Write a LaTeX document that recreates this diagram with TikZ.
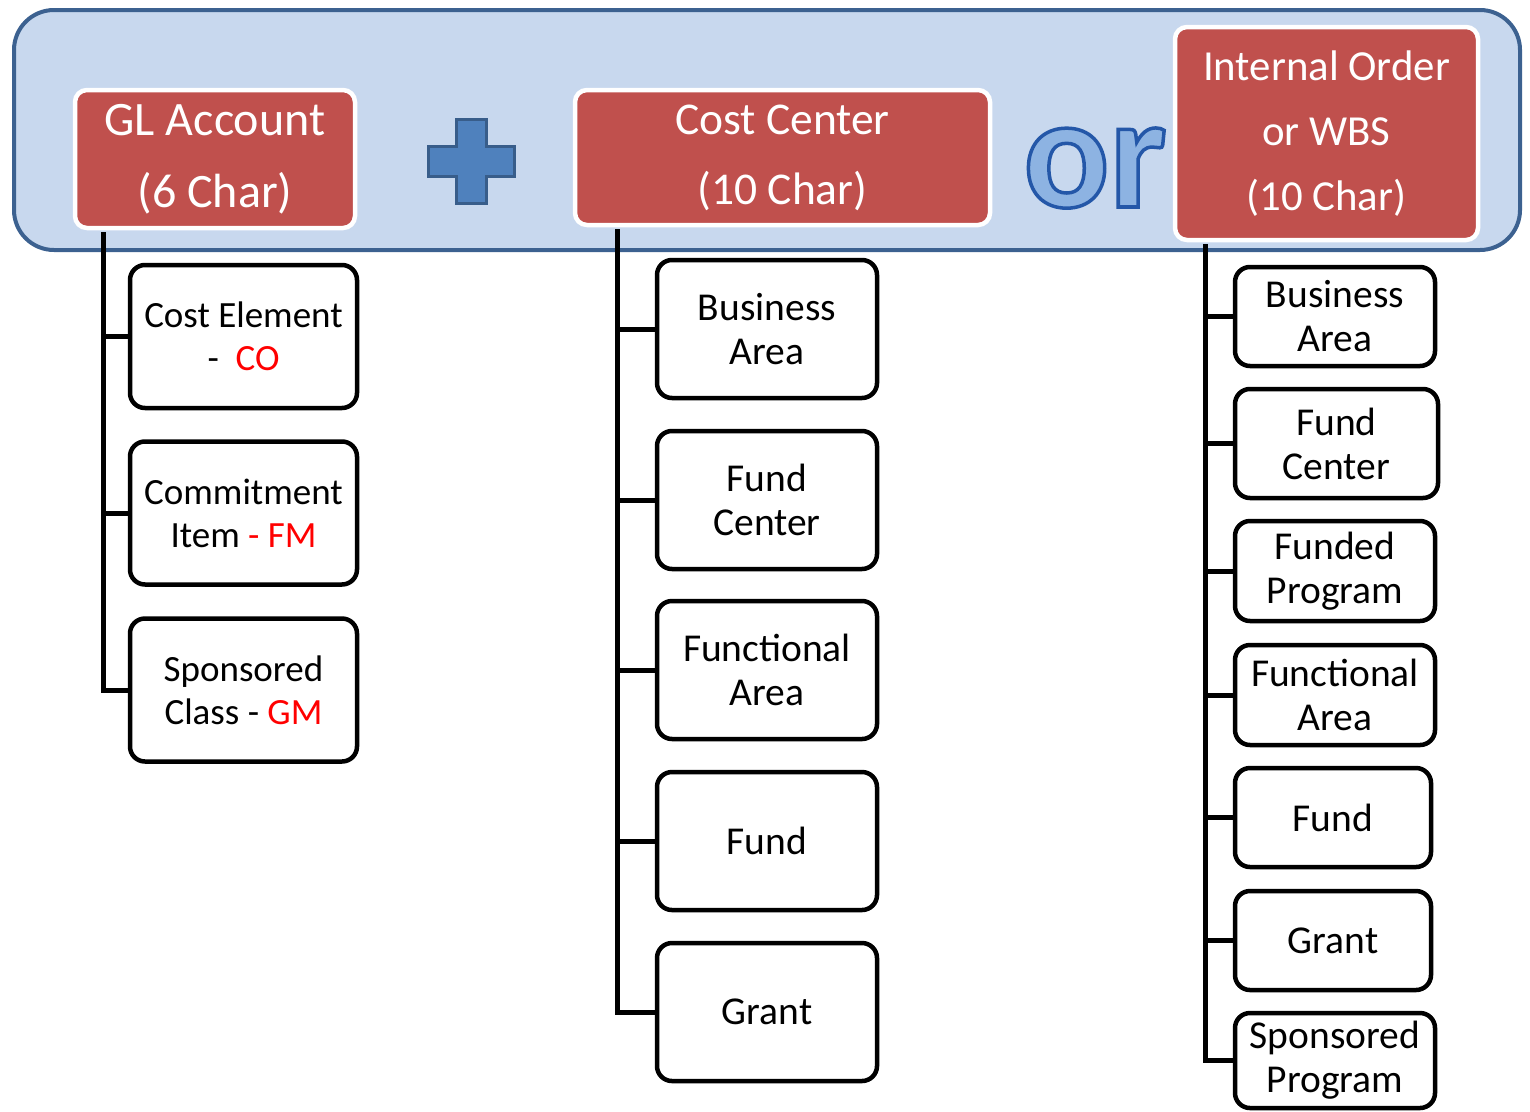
\documentclass[tikz,border=0pt]{standalone}
\usepackage{fontspec}
\setmainfont{Carlito}
\definecolor{bandfill}{HTML}{C8D8EE}
\definecolor{banddraw}{HTML}{3C6190}
\definecolor{hdrred}{HTML}{C0504D}
\definecolor{plusfill}{HTML}{4F81BD}
\definecolor{plusdraw}{HTML}{385D8A}
\definecolor{orfill}{HTML}{8DB3E2}
\definecolor{txtred}{HTML}{FF0000}
\newcommand\strokeon{\special{pdf:literal q 2 Tr 3.5 w 0.14 0.34 0.66 RG}}
\newcommand\strokeoff{\special{pdf:literal Q}}
\tikzset{
  hdr/.style={draw=white, line width=4.5pt, fill=hdrred, rounded corners=12pt, text=white, align=center, inner sep=0pt},
  item/.style={draw=black, line width=4.5pt, fill=white, rounded corners=15pt, align=center, inner sep=0pt, font=\fontsize{39.5}{44}\selectfont},
  leftitem/.style={item, font=\fontsize{37}{43}\selectfont},
  conn/.style={draw=black, line width=5pt},
}
\begin{document}
\begin{tikzpicture}[x=1pt,y=-1pt]
\useasboundingbox (0,0) rectangle (1530,1111);
% band
\draw[fill=bandfill, draw=banddraw, line width=4pt, rounded corners=40pt] (14,10) rectangle (1520,250);
% plus sign
\draw[fill=plusfill, draw=plusdraw, line width=3pt]
  (456,119) -- (486,119) -- (486,146) -- (514,146) -- (514,176) -- (486,176) -- (486,203) -- (456,203) -- (456,176) -- (428,176) -- (428,146) -- (456,146) -- cycle;
% or
\node[anchor=base, inner sep=0pt, text=orfill, font=\fontsize{160}{160}\selectfont\bfseries] (or) at (1095,207) {\strokeon or\strokeoff};
% headers
\node[hdr, minimum width=280pt, minimum height=138pt, font=\fontsize{48}{72}\selectfont] (gl) at (215,159) {GL Account\\(6 Char)};
\node[hdr, minimum width=415pt, minimum height=135pt, font=\fontsize{45.5}{70}\selectfont] (cc) at (782.5,157.5) {Cost Center\\(10 Char)};
\node[hdr, minimum width=303pt, minimum height=213pt, font=\fontsize{42.8}{65}\selectfont] (io) at (1326.5,133.5) {Internal Order\\or WBS\\(10 Char)};
% left boxes
\node[leftitem, minimum width=227pt, minimum height=143pt] (ce) at (243.5,336.5) {Cost Element\\-\ \ {\color{txtred}CO}};
\node[leftitem, minimum width=227pt, minimum height=143pt] (ci) at (243.5,513) {Commitment\\Item {\color{txtred}- FM}};
\node[leftitem, minimum width=227pt, minimum height=143pt] (sc) at (243.5,690) {Sponsored\\Class - {\color{txtred}GM}};
% middle boxes
\node[item, minimum width=220pt, minimum height=138pt] (m1) at (767,329) {Business\\Area};
\node[item, minimum width=220pt, minimum height=138pt] (m2) at (767,500) {Fund\\Center};
\node[item, minimum width=220pt, minimum height=138pt] (m3) at (767,670) {Functional\\Area};
\node[item, minimum width=220pt, minimum height=138pt] (m4) at (767,841) {Fund};
\node[item, minimum width=220pt, minimum height=138pt] (m5) at (767,1012) {Grant};
% right boxes
\node[item, minimum width=200pt, minimum height=99pt] (r1) at (1335,316.5) {Business\\Area};
\node[item, minimum width=203pt, minimum height=109pt] (r2) at (1336.5,443.5) {Fund\\Center};
\node[item, minimum width=200pt, minimum height=100pt] (r3) at (1335,571) {Funded\\Program};
\node[item, minimum width=200pt, minimum height=100pt] (r4) at (1335,695) {Functional\\Area};
\node[item, minimum width=196pt, minimum height=99pt] (r5) at (1333,817.5) {Fund};
\node[item, minimum width=196pt, minimum height=99pt] (r6) at (1333,940.5) {Grant};
\node[item, minimum width=200pt, minimum height=95pt] (r7) at (1335,1060.5) {Sponsored\\Program};
% trunks
\coordinate (t1) at ([xshift=31pt, yshift=-2pt]gl.south west);
\coordinate (t2) at ([xshift=45pt, yshift=-2pt]cc.south west);
\coordinate (t3) at ([xshift=33pt, yshift=-2pt]io.south west);
\draw[conn] (t1) |- (sc.west);
\draw[conn] (ce.west) -- (ce.west -| t1);
\draw[conn] (ci.west) -- (ci.west -| t1);
\draw[conn] (t2) |- (m5.west);
\foreach \n in {m1,m2,m3,m4} \draw[conn] (\n.west) -- (\n.west -| t2);
\draw[conn] (t3) |- (r7.west);
\foreach \n in {r1,r2,r3,r4,r5,r6} \draw[conn] (\n.west) -- (\n.west -| t3);
\end{tikzpicture}
\end{document}
